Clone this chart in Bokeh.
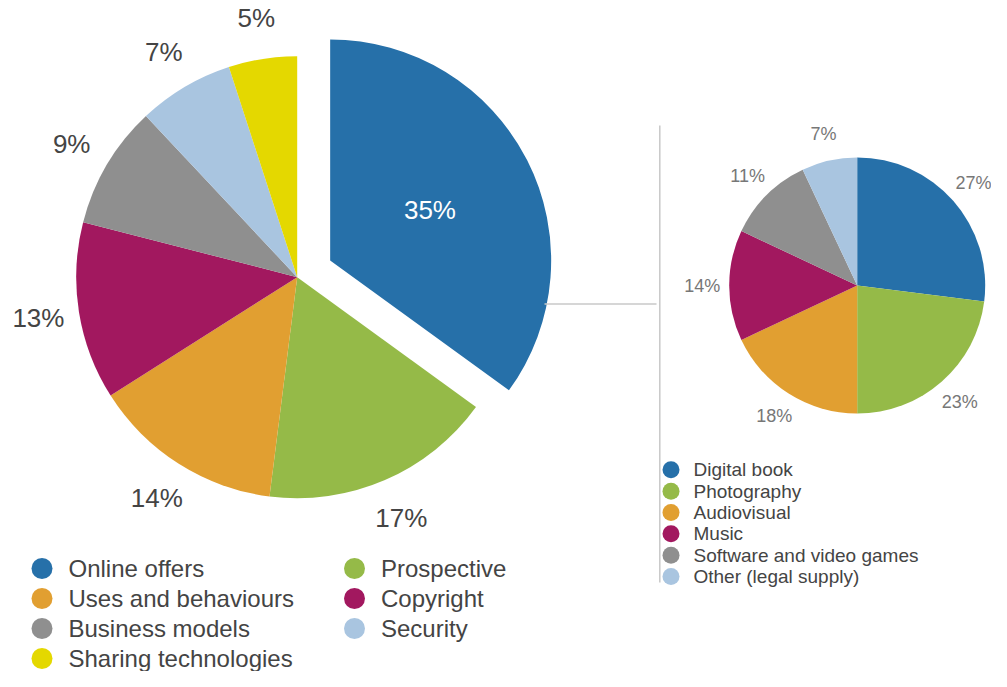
import math
from bokeh.plotting import figure
from bokeh.models import Range1d, ColumnDataSource
from bokeh.core.properties import value
from bokeh.embed import file_html
from bokeh.resources import INLINE

# ---------------- data ----------------
main_categories = ["Online offers", "Prospective", "Uses and behaviours", "Copyright",
                   "Business models", "Security", "Sharing technologies"]
main_values = [35, 17, 14, 13, 9, 7, 5]
main_colors = ["#2670a9", "#95ba48", "#e19f31", "#a2185f", "#8f8f8f", "#a9c5e0", "#e4d800"]

sub_categories = ["Digital book", "Photography", "Audiovisual", "Music",
                  "Software and video games", "Other (legal supply)"]
sub_values = [27, 23, 18, 14, 11, 7]
sub_colors = ["#2670a9", "#95ba48", "#e19f31", "#a2185f", "#8f8f8f", "#a9c5e0"]

legend_order = ["Online offers", "Prospective", "Uses and behaviours", "Copyright",
                "Business models", "Security", "Sharing technologies"]

FONT = "Liberation Sans"
W, H = 991, 671


def Y(ys):  # screen y (from top) -> data y (y up)
    return H - ys


p = figure(width=W, height=H, output_backend="svg", toolbar_location=None,
           x_range=Range1d(0, W), y_range=Range1d(0, H),
           min_border=0, min_border_left=0, min_border_right=0,
           min_border_top=0, min_border_bottom=0)
p.xaxis.visible = False
p.yaxis.visible = False
p.grid.visible = False
p.outline_line_color = None
p.background_fill_color = "white"


def pie_geometry(values, cx, cy, label_r, explode=None):
    total = float(sum(values))
    cum = 0.0
    rows = dict(x=[], y=[], start=[], end=[], lx=[], ly=[], mid=[])
    for i, v in enumerate(values):
        a0 = math.pi / 2 - 2 * math.pi * cum / total
        a1 = math.pi / 2 - 2 * math.pi * (cum + v) / total
        mid = (a0 + a1) / 2
        ox, oy = 0.0, 0.0
        if explode and i in explode:
            ox = explode[i] * math.cos(mid)
            oy = explode[i] * math.sin(mid)
        rows["x"].append(cx + ox)
        rows["y"].append(cy + oy)
        rows["start"].append(a1)
        rows["end"].append(a0)
        rows["mid"].append(mid)
        rows["lx"].append(cx + label_r * math.cos(mid))
        rows["ly"].append(cy + label_r * math.sin(mid))
        cum += v
    return rows


# ---------------- main pie ----------------
mcx, mcy, mr = 296.7, Y(276.7), 221
g = pie_geometry(main_values, mcx, mcy, 262, explode={0: 37})
src = ColumnDataSource(dict(x=g["x"], y=g["y"], start=g["start"], end=g["end"],
                            color=main_colors))
p.wedge(x="x", y="y", radius=mr, start_angle="start", end_angle="end",
        fill_color="color", line_color=None, source=src)

lbl_x, lbl_y, lbl_t, lbl_c = [], [], [], []
for i, v in enumerate(main_values):
    if i == 0:
        mid = g["mid"][0]
        lbl_x.append(g["x"][0] + 112 * math.cos(mid))
        lbl_y.append(g["y"][0] + 112 * math.sin(mid))
        lbl_c.append("white")
    else:
        lbl_x.append(g["lx"][i])
        lbl_y.append(g["ly"][i])
        lbl_c.append("#444444")
    lbl_t.append(f"{v}%")
p.text(x=lbl_x, y=lbl_y, text=lbl_t, text_color=lbl_c, text_font=value(FONT),
       text_font_size="26px", text_align="center", text_baseline="middle")

# ---------------- sub pie ----------------
scx, scy, sr = 856.7, Y(285), 128
sg = pie_geometry(sub_values, scx, scy, 155)
ssrc = ColumnDataSource(dict(x=sg["x"], y=sg["y"], start=sg["start"], end=sg["end"],
                             color=sub_colors))
p.wedge(x="x", y="y", radius=sr, start_angle="start", end_angle="end",
        fill_color="color", line_color=None, source=ssrc)
p.text(x=sg["lx"], y=sg["ly"], text=[f"{v}%" for v in sub_values], text_color="#777777",
       text_font=value(FONT), text_font_size="18px", text_align="center",
       text_baseline="middle")

# ---------------- connector lines ----------------
p.line(x=[544, 656], y=[Y(303.5), Y(303.5)], line_color="#c8c8c8", line_width=1.5)
p.line(x=[659.3, 659.3], y=[Y(125), Y(582)], line_color="#c8c8c8", line_width=1.5)

# ---------------- main legend ----------------
color_of = dict(zip(main_categories, main_colors))
lx, ly, lc = [], [], []
for k, name in enumerate(legend_order):
    col, row = k % 2, k // 2
    lx.append(41.5 + col * 312.5)
    ly.append(Y(568 + row * 30))
    lc.append(color_of[name])
p.scatter(x=lx, y=ly, size=21, fill_color=lc, line_color=None, marker="circle")
p.text(x=[x + 26.5 for x in lx], y=ly, text=legend_order, text_color="#444444",
       text_font=value(FONT), text_font_size="24px", text_align="left",
       text_baseline="middle")

# ---------------- sub legend ----------------
sx = [670.5] * len(sub_categories)
sy = [Y(469.3 + i * 21.35) for i in range(len(sub_categories))]
p.scatter(x=sx, y=sy, size=17, fill_color=sub_colors, line_color=None, marker="circle")
p.text(x=[693] * len(sub_categories), y=sy, text=sub_categories, text_color="#444444",
       text_font=value(FONT), text_font_size="19px", text_align="left",
       text_baseline="middle")

open("out.html", "w").write(file_html(p, INLINE))
